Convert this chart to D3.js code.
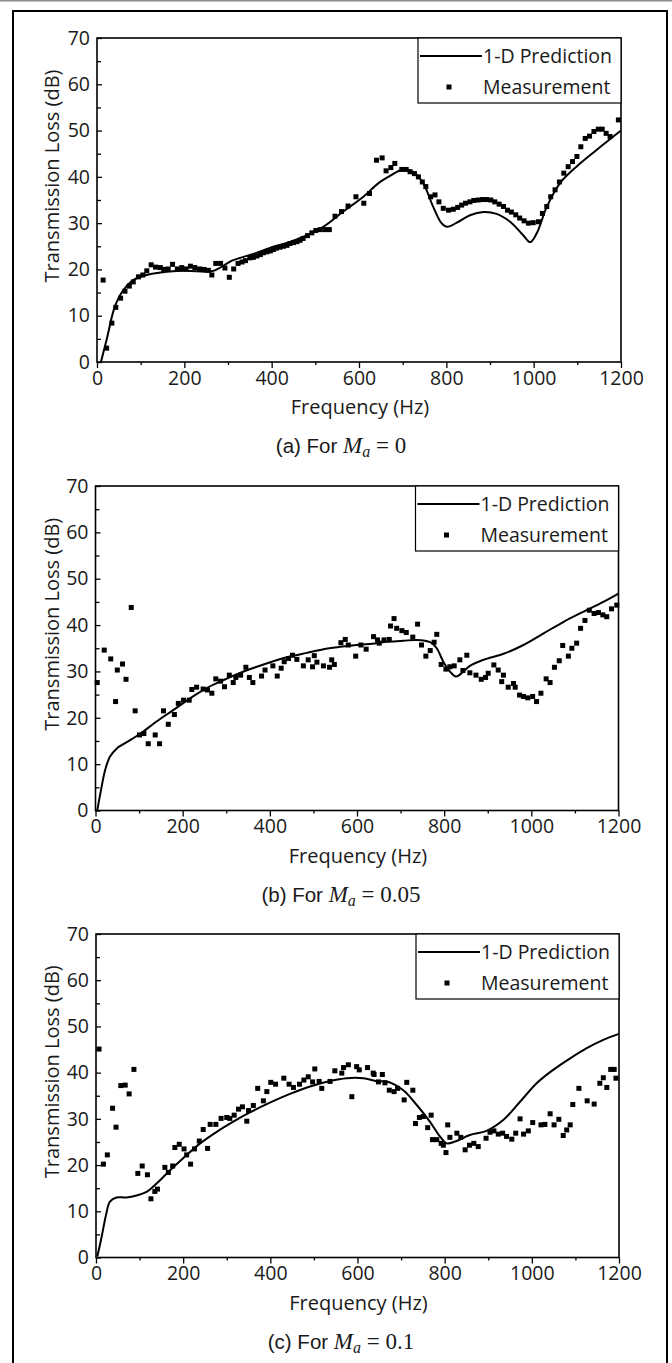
<!DOCTYPE html>
<meta charset="utf-8">
<script src="https://d3js.org/d3.v7.min.js"></script>
<style>
  body { margin: 0; background: #fff; }
  text { fill: #1a1a1a; }
</style>
<div id="chart"></div>
<script>

// ---- data: [frequency Hz, transmission loss dB] ----
const xTicks = [0, 200, 400, 600, 800, 1000, 1200];
const yTicks = [0, 10, 20, 30, 40, 50, 60, 70];
const legendLabels = ["1-D Prediction", "Measurement"];

// (a) Ma = 0
const predA = [[9,0],[22,4.8],[41,12],[60,15.5],[83,17.7],[114,18.8],[160,19.5],[205,19.7],[251,19.5],[270,19.8],
  [312,22],[360,23.4],[404,24.9],[440,25.9],[472,27],[518,29.2],[564,32.5],[610,35.7],[644,38.6],[671,40.2],
  [701,41.6],[724,41.1],[747,38.6],[770,33.5],[789,30],[802,29.2],[824,30.1],[854,31.7],[885,32.4],[915,32],
  [946,30.3],[976,27.4],[992,25.9],[1007,27.8],[1030,33.5],[1060,38.6],[1098,42.2],[1144,45.8],[1200,50]];
const measA = [[14,17.7],[22,3],[34,8.4],[43,11.8],[54,13.8],[64,15.3],[74,16.4],[83,17.3],[95,18.4],[105,18.8],
  [114,19.7],[124,21],[134,20.5],[145,20.4],[153,20],[163,20.1],[173,21.1],[184,20.1],[194,20.4],[204,20.1],
  [214,20.7],[224,20.4],[235,20.1],[245,20],[255,19.8],[263,18.8],[272,21.3],[283,21.3],[293,20.3],[303,18.3],
  [313,20.1],[323,21.3],[332,21.6],[340,21.9],[350,22.5],[358,22.6],[366,22.9],[374,23.2],[381,23.6],[389,23.8],
  [397,24],[404,24.3],[411,24.6],[419,24.8],[427,25],[435,25.2],[442,25.6],[450,25.8],[458,26],[465,26.3],
  [472,26.7],[482,27.3],[492,27.9],[501,28.4],[511,28.6],[522,28.6],[532,28.6],[545,31.5],[560,32.5],[575,33.7],
  [593,35.7],[611,34.3],[624,36.4],[640,43.6],[653,44.1],[662,41.3],[673,42],[682,42.9],[698,41.6],[708,41.6],
  [717,41.1],[727,40.7],[736,40],[745,38.9],[753,37.9],[764,35.7],[774,36.1],[783,34.6],[793,33.2],[805,32.8],
  [816,33],[826,33.4],[835,33.9],[844,34.3],[854,34.6],[863,34.9],[873,35],[883,35.1],[892,35.1],[902,35],
  [911,34.6],[921,34.1],[931,33.6],[940,32.8],[949,32.4],[959,31.8],[968,31.1],[978,30.5],[988,30],[999,30.1],
  [1011,30.3],[1020,32.1],[1030,33.6],[1039,35.7],[1049,37.2],[1059,38.9],[1069,40.8],[1079,42.2],[1089,43.3],
  [1099,44.4],[1108,46.5],[1118,48.3],[1128,48.8],[1138,49.8],[1148,50.3],[1157,50.3],[1166,49.4],[1175,48.7],
  [1194,52.3]];

// (b) Ma = 0.05
const predB = [[4,0],[14,5.1],[22,8.7],[33,11.6],[49,13.4],[64,14.3],[83,15.4],[102,16.5],[140,19.2],[179,21.7],
  [217,24.2],[255,26.4],[293,28.1],[332,29.7],[370,31],[408,32.2],[446,33.2],[485,34],[523,34.8],[561,35.3],
  [599,35.7],[645,36.1],[668,36.4],[706,36.6],[737,36.8],[768,36.3],[783,35],[798,32.1],[813,30],[827,28.9],
  [840,29.6],[859,31.2],[890,32.5],[936,33.8],[982,35.7],[1028,38.2],[1074,40.7],[1120,42.9],[1165,45],[1200,46.8]];
const measB = [[4,27.6],[20,34.6],[35,32.7],[46,23.5],[50,30.3],[62,31.6],[70,28.3],[82,43.8],[91,21.5],[101,16.3],
  [111,16.6],[121,14.4],[137,16.3],[147,14.4],[156,21.5],[167,18.6],[181,20.7],[190,23.1],[202,23.8],[215,23.8],
  [221,26.1],[232,26.6],[247,26.2],[257,26],[267,25.3],[276,28.4],[287,27.9],[296,26.7],[307,29.2],[316,27.6],
  [322,28.7],[333,29.2],[345,30.9],[353,28.7],[361,27.6],[381,29],[389,30.3],[407,31.2],[417,29],[426,30.7],
  [433,32.1],[443,32.8],[452,33.5],[462,32.6],[477,31.2],[488,32.5],[498,31],[502,33.4],[508,32],[523,31.2],
  [537,30.9],[542,32.5],[548,31.5],[563,36.2],[573,36.9],[580,35.7],[597,33.3],[609,35.7],[621,34.8],[638,37.5],
  [647,36.8],[651,36.1],[662,36.8],[674,36.9],[677,39.8],[685,41.4],[691,39.3],[703,38.8],[713,38.4],[728,37.4],
  [739,40.2],[748,35.7],[758,33.3],[768,34.5],[777,36.3],[783,38],[793,31.5],[804,30.5],[813,31],[823,31.2],
  [836,32.5],[843,30.2],[852,33.5],[859,29.7],[873,29.2],[885,28.3],[895,28.7],[901,29.6],[914,31.4],[924,30.3],
  [932,27.8],[936,29.2],[947,26.6],[959,27.4],[963,26.6],[973,24.9],[982,24.6],[992,24.3],[1003,24.6],[1012,23.5],
  [1022,25.3],[1034,28.4],[1043,27.6],[1053,30.9],[1064,32.3],[1072,35.6],[1085,33.3],[1093,35],[1104,36.1],
  [1113,39.3],[1123,41],[1133,43.2],[1144,42.5],[1154,42.7],[1164,42.2],[1173,41.8],[1184,43.5],[1196,44.3]];

// (c) Ma = 0.1
const predC = [[3,0.2],[13,4.5],[23,9.2],[32,12.1],[47,13],[70,13],[93,13.4],[116,14.2],[139,16],[170,18.9],
  [200,21.5],[239,24.7],[277,27.2],[315,29.4],[353,31.4],[399,33.5],[445,35.4],[491,37],[537,38.2],[575,38.8],
  [613,38.8],[648,38.1],[667,38.1],[705,36.2],[736,33],[766,29.4],[789,26.2],[805,24.7],[824,25.1],[858,26.5],
  [896,27.4],[935,29.8],[973,33.7],[1011,37.7],[1049,40.6],[1088,43.1],[1126,45.3],[1164,47.1],[1200,48.4]];
const measC = [[7,45.1],[17,20.2],[26,22.2],[38,32.3],[46,28.2],[57,37.2],[67,37.3],[76,35.4],[87,40.7],[96,18.2],
  [106,19.8],[118,17.9],[126,12.7],[135,14.3],[141,14.8],[158,19.5],[166,18.4],[176,19.8],[181,23.8],[191,24.5],
  [202,23.5],[208,22.2],[217,20.2],[226,23.5],[237,25.2],[246,27.7],[256,23.6],[262,28.8],[275,28.8],[287,30.1],
  [300,30.3],[307,30.1],[317,30.8],[327,32.1],[336,32.6],[346,29.5],[350,31.8],[361,32.9],[371,36.6],[384,33.9],
  [392,35.9],[401,37.9],[412,37.5],[431,38.8],[443,37.5],[453,36.8],[467,37.5],[477,38.4],[487,39.1],[497,38],
  [502,40.8],[512,38.1],[518,36.6],[537,38.1],[548,40.4],[564,39.9],[568,41.1],[579,41.7],[587,34.8],[598,41.3],
  [604,40.6],[623,41.1],[636,39.9],[638,39.6],[648,38],[657,39.6],[663,37.8],[673,36.2],[684,35.9],[692,36.6],
  [707,34.1],[713,37.9],[727,36.2],[733,29],[742,30.3],[751,30.5],[761,28.1],[769,30.8],[772,25.5],[782,25.5],
  [792,24.7],[797,24.3],[803,22.7],[807,28.7],[812,26],[828,26.9],[837,26],[847,23.3],[857,24.3],[867,24.7],
  [877,24],[895,25.8],[904,27.1],[913,27.4],[923,26.7],[933,26.9],[942,26.2],[954,25.6],[963,26.9],[973,30],
  [981,26.7],[992,27.4],[1002,29.2],[1021,28.7],[1030,28.8],[1042,31.1],[1051,28.7],[1062,29.9],[1072,26.4],
  [1080,27.6],[1088,28.7],[1094,33.1],[1108,36.6],[1127,33.9],[1143,33.2],[1156,37.7],[1164,38.9],[1172,36.8],
  [1181,40.7],[1189,40.7],[1193,38.8]];

const panels = [
  {pred: predA, meas: measA, tag: "(a) For ", ma: "0",    left: 97,   right: 621,   top: 38,  bottom: 362},
  {pred: predB, meas: measB, tag: "(b) For ", ma: "0.05", left: 95.5, right: 618.5, top: 486, bottom: 810.5},
  {pred: predC, meas: measC, tag: "(c) For ", ma: "0.1",  left: 96,   right: 619,   top: 934, bottom: 1257.5}
];

const W = 672, H = 1363;
const uiFont = "'Open Sans', 'Noto Sans', sans-serif";

const svg = d3.select("#chart").append("svg")
  .attr("width", W).attr("height", H);

// page decoration: thin grey rule at top and the outer black frame
svg.append("line").attr("x1", 0).attr("x2", W).attr("y1", 0.5).attr("y2", 0.5)
  .attr("stroke", "#8a8a8a").attr("stroke-width", 2);
svg.append("rect").attr("x", 13).attr("y", 11).attr("width", 654).attr("height", H + 20)
  .attr("fill", "none").attr("stroke", "#000").attr("stroke-width", 2);

panels.forEach(function(p) {
  const x = d3.scaleLinear().domain([0, 1200]).range([p.left, p.right]);
  const y = d3.scaleLinear().domain([0, 70]).range([p.bottom, p.top]);
  const g = svg.append("g");

  // minor ticks
  g.append("g")
    .attr("transform", "translate(0," + p.bottom + ")")
    .call(d3.axisBottom(x).tickValues([100, 300, 500, 700, 900, 1100]).tickSize(3).tickFormat(""))
    .call(a => a.select(".domain").remove());
  g.append("g")
    .attr("transform", "translate(" + p.left + ",0)")
    .call(d3.axisLeft(y).tickValues([5, 15, 25, 35, 45, 55, 65]).tickSize(-4).tickFormat(""))
    .call(a => a.select(".domain").remove());

  // major ticks + labels
  const xa = g.append("g")
    .attr("transform", "translate(0," + p.bottom + ")")
    .call(d3.axisBottom(x).tickValues(xTicks).tickSize(6).tickPadding(3).tickFormat(d3.format("d")));
  const ya = g.append("g")
    .attr("transform", "translate(" + p.left + ",0)")
    .call(d3.axisLeft(y).tickValues(yTicks).tickSize(-5).tickPadding(7).tickFormat(d3.format("d")));
  [xa, ya].forEach(function(a) {
    a.select(".domain").remove();
    a.selectAll("text").attr("font-family", uiFont).attr("font-size", 19.5).attr("fill", "#1a1a1a");
  });
  g.selectAll(".tick line").attr("stroke", "#000").attr("stroke-width", 1.3);

  // plot frame
  g.append("rect")
    .attr("x", p.left).attr("y", p.top)
    .attr("width", p.right - p.left).attr("height", p.bottom - p.top)
    .attr("fill", "none").attr("stroke", "#000").attr("stroke-width", 1.6);

  // prediction curve
  const line = d3.line()
    .x(d => x(d[0])).y(d => y(d[1]))
    .curve(d3.curveCatmullRom.alpha(0.5));
  g.append("path").datum(p.pred)
    .attr("d", line)
    .attr("fill", "none").attr("stroke", "#000").attr("stroke-width", 2);

  // measured points
  g.append("g").selectAll("rect")
    .data(p.meas)
    .enter().append("rect")
      .attr("x", d => x(d[0]) - 2.5)
      .attr("y", d => y(d[1]) - 2.5)
      .attr("width", 5).attr("height", 5)
      .attr("fill", "#000");

  // legend
  const lg = g.append("g").attr("transform", "translate(" + (p.right - 203) + "," + p.top + ")");
  lg.append("rect").attr("width", 203).attr("height", 65)
    .attr("fill", "#fff").attr("stroke", "#000").attr("stroke-width", 1.2);
  lg.append("line").attr("x1", 2).attr("x2", 64).attr("y1", 18).attr("y2", 18)
    .attr("stroke", "#000").attr("stroke-width", 2);
  lg.append("rect").attr("x", 28.5).attr("y", 46.5).attr("width", 5).attr("height", 5).attr("fill", "#000");
  lg.selectAll("text.lab")
    .data(legendLabels)
    .enter().append("text")
      .attr("class", "lab")
      .attr("x", 65)
      .attr("y", (d, i) => 18 + i * 31)
      .attr("dy", "0.35em")
      .attr("font-family", uiFont).attr("font-size", 19.5)
      .text(d => d);

  // axis titles
  g.append("text")
    .attr("x", (p.left + p.right) / 2 + 1).attr("y", p.bottom + 45)
    .attr("dy", "0.35em").attr("text-anchor", "middle")
    .attr("font-family", uiFont).attr("font-size", 20)
    .text("Frequency (Hz)");
  g.append("text")
    .attr("transform", "translate(52," + ((p.top + p.bottom) / 2 - 24) + ") rotate(-90)")
    .attr("dy", "0.35em").attr("text-anchor", "middle")
    .attr("font-family", uiFont).attr("font-size", 20)
    .text("Transmission Loss (dB)");

  // caption
  const cap = g.append("text")
    .attr("x", 341).attr("y", p.bottom + 84)
    .attr("dy", "0.35em").attr("text-anchor", "middle")
    .attr("font-family", "'Liberation Sans', Arial, sans-serif").attr("font-size", 20.5)
    .attr("fill", "#111");
  cap.append("tspan").text(p.tag);
  cap.append("tspan").attr("font-family", "'Liberation Serif', serif").attr("font-style", "italic")
    .attr("font-size", 23).text("M");
  cap.append("tspan").attr("font-family", "'Liberation Serif', serif").attr("font-style", "italic")
    .attr("font-size", 16).attr("dy", 4).text("a");
  cap.append("tspan").attr("font-family", "'Liberation Serif', serif")
    .attr("font-size", 23).attr("dy", -4).text(" = " + p.ma);
});

</script>
